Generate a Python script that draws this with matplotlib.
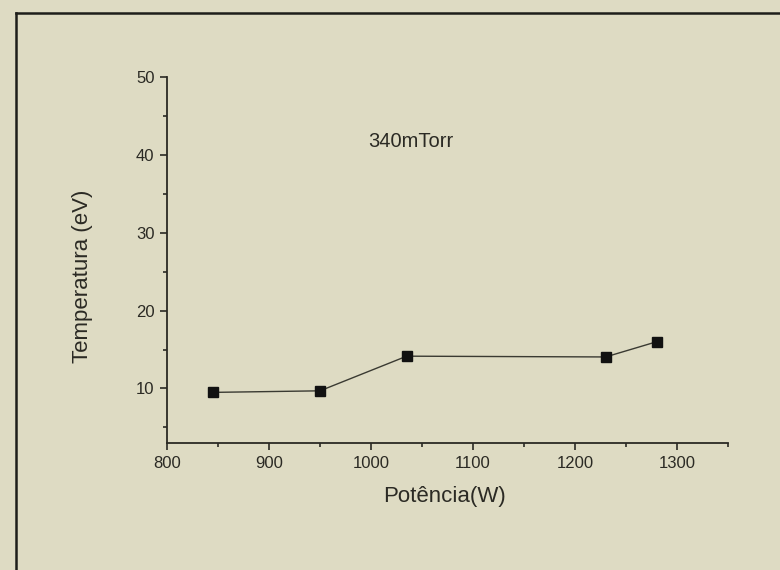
import matplotlib
matplotlib.use("Agg")
import matplotlib.pyplot as plt
from matplotlib.lines import Line2D
from matplotlib.ticker import MultipleLocator

# Data
potencia = [845, 950, 1035, 1230, 1280]
temperatura = [9.5, 9.7, 14.15, 14.05, 16.0]
x_label = "Potência(W)"
y_label = "Temperatura (eV)"
annotation = "340mTorr"

bg = "#dedbc3"
ink = "#2b2a24"

plt.rcParams['font.family'] = ['Liberation Sans', 'DejaVu Sans']

fig = plt.figure(figsize=(7.8, 5.7), dpi=100, facecolor=bg)
ax = fig.add_axes([167/780, 1 - 443/570, 561/780, 366/570])
ax.set_facecolor(bg)

ax.plot(potencia, temperatura, color="#3a3a32", lw=1.0,
        marker="s", markersize=6.5, markerfacecolor="#111111",
        markeredgecolor="#111111")

ax.set_xlim(800, 1350)
ax.set_ylim(3, 50)
ax.xaxis.set_major_locator(MultipleLocator(100))
ax.xaxis.set_minor_locator(MultipleLocator(50))
ax.yaxis.set_major_locator(MultipleLocator(10))
ax.yaxis.set_minor_locator(MultipleLocator(5))
ax.set_yticks([10, 20, 30, 40, 50])

for s in ["top", "right"]:
    ax.spines[s].set_visible(False)
for s in ["left", "bottom"]:
    ax.spines[s].set_color(ink)
    ax.spines[s].set_linewidth(1.3)

ax.tick_params(axis="both", which="major", direction="out", length=5,
               width=1.2, color=ink, labelsize=12, labelcolor=ink, pad=4)
ax.tick_params(axis="both", which="minor", direction="out", length=3,
               width=1.2, color=ink)

ax.set_xlabel(x_label, fontsize=16, color=ink, va="center")
ax.xaxis.set_label_coords(0.494, -0.1467)
ax.set_ylabel(y_label, fontsize=16, color=ink, va="center")
ax.yaxis.set_label_coords(-0.15, 0.456)

ax.text(997, 41.7, annotation, fontsize=14.5, color=ink, ha="left", va="center")

# scanned frame border (top and left)
fig.add_artist(Line2D([16/780, 1.0], [1 - 13/570, 1 - 13/570],
                      transform=fig.transFigure, color="#1e1e1a", lw=1.8))
fig.add_artist(Line2D([16/780, 16/780], [0.0, 1 - 13/570],
                      transform=fig.transFigure, color="#1e1e1a", lw=1.8))

fig.savefig("out.png", dpi=100, facecolor=bg)
